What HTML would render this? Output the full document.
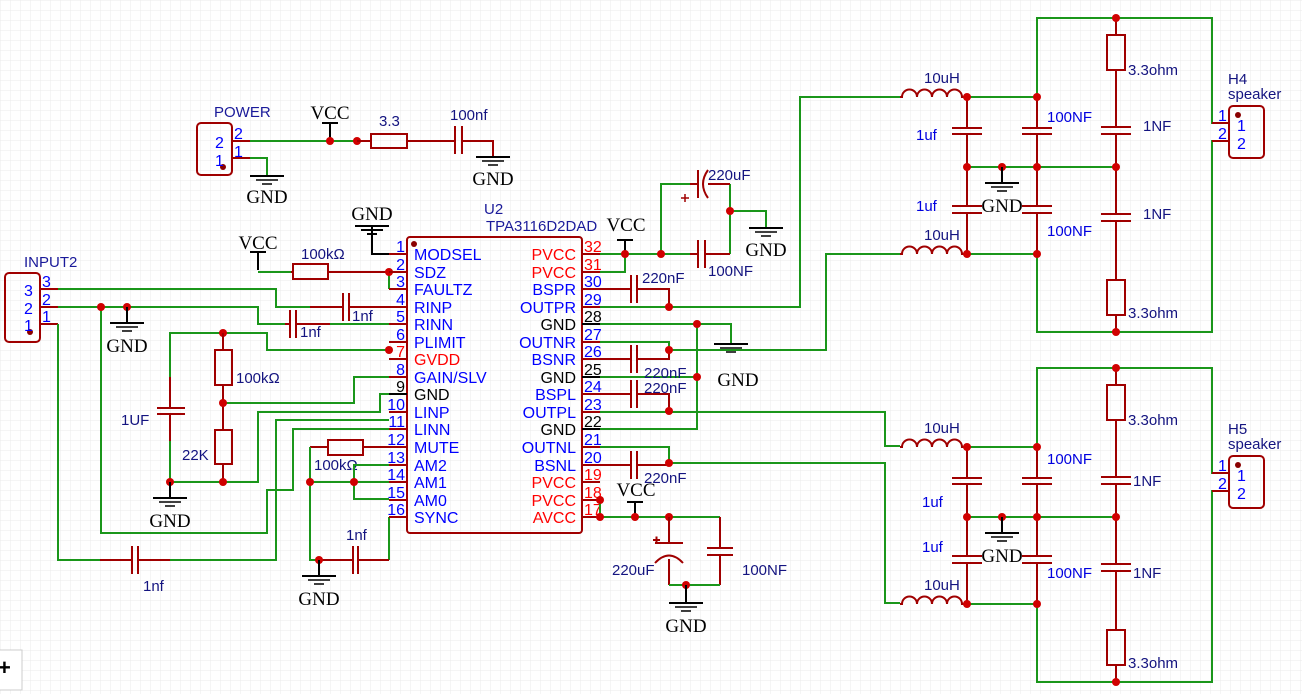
<!DOCTYPE html>
<html><head><meta charset="utf-8"><style>
html,body{margin:0;padding:0;background:#fff;}
svg{display:block;}
.w{stroke:#1a961a;stroke-width:2;fill:none;}
.r{stroke:#a00000;stroke-width:2;fill:none;}
.k{stroke:#000;stroke-width:2;fill:none;}
.d{fill:#d00000;}
text{font-family:"Liberation Sans",sans-serif;}
.g{font-family:"Liberation Serif",serif;font-size:19px;fill:#000;text-anchor:middle;}
.lb{font-size:15px;fill:#141480;}
.bl{font-size:15px;fill:#0000e0;}
.pn{font-size:16px;fill:#0000ff;}
.pr{font-size:16px;fill:#ff0000;}
.pk{font-size:16px;fill:#000;}
</style></head><body>
<svg width="1302" height="694" viewBox="0 0 1302 694" xmlns="http://www.w3.org/2000/svg">
<defs>
<pattern id="grid" width="10" height="10" patternUnits="userSpaceOnUse"><path d="M10 0H0V10" fill="none" stroke="#ebebeb" stroke-width="1"/></pattern>
<g id="gnd"><line x1="-17" y1="0" x2="17" y2="0" stroke="#000" stroke-width="2"/><line x1="-11" y1="4" x2="11" y2="4" stroke="#000" stroke-width="1.5"/><line x1="-5" y1="8" x2="5" y2="8" stroke="#000" stroke-width="1.5"/></g>
</defs>
<rect width="1302" height="694" fill="url(#grid)"/>

<!-- POWER -->
<rect x="197" y="123" width="35" height="52" rx="4" class="r"/>
<circle cx="223" cy="167" r="3" fill="#8a0000"/>
<text x="214" y="117" class="bl" style="fill:#1a1a9a">POWER</text>
<text x="215" y="148" class="pn">2</text><text x="215" y="166" class="pn">1</text>
<text x="234" y="139" class="pn">2</text><text x="234" y="157" class="pn">1</text>
<path class="r" d="M232 141H250M232 158H250"/>
<path class="w" d="M250 141H357M250 158H267V176"/>
<use href="#gnd" x="267" y="176"/><text x="267" y="203" class="g">GND</text>
<path class="k" d="M330 141V123M322 123H338"/><text x="330" y="119" class="g">VCC</text>
<circle cx="330" cy="141" r="4" class="d"/><circle cx="357" cy="141" r="4" class="d"/>
<path class="r" d="M357 141H371M407 141H455M462 141H493V157"/>
<rect x="371" y="134" width="36" height="14" class="r"/><text x="379" y="126" class="lb">3.3</text>
<path class="r" d="M455 126V154M462 126V154"/><text x="450" y="120" class="lb">100nf</text>
<use href="#gnd" x="493" y="157"/><text x="493" y="185" class="g">GND</text>

<!-- INPUT2 -->
<rect x="5" y="273" width="35" height="69" rx="4" class="r"/>
<circle cx="30" cy="332" r="3" fill="#8a0000"/>
<text x="24" y="267" class="bl" style="fill:#1a1a9a">INPUT2</text>
<text x="24" y="296" class="pn">3</text><text x="24" y="314" class="pn">2</text><text x="24" y="331" class="pn">1</text>
<text x="42" y="287" class="pn">3</text><text x="42" y="305" class="pn">2</text><text x="42" y="322" class="pn">1</text>
<path class="r" d="M40 289H58M40 307H58M40 324H58"/>
<path class="w" d="M58 289H276V307H310M58 307H258V324H285M58 324V560H100M170 560H276V420H389M101 307V533H267V490H293V429H389"/>
<circle cx="101" cy="307" r="4" class="d"/><circle cx="127" cy="307" r="4" class="d"/>
<path class="k" d="M127 307V323"/><use href="#gnd" x="127" y="323"/><text x="127" y="352" class="g">GND</text>
<path class="r" d="M310 307H343M349 307H389M343 293V321M349 293V321"/><text x="352" y="321" class="lb">1nf</text>
<path class="r" d="M285 324H290M296 324H330M290 310V338M296 310V338"/><text x="300" y="337" class="lb">1nf</text>
<path class="w" d="M330 324H389"/>
<path class="r" d="M100 560H132M138 560H170M132 546V574M138 546V574"/><text x="143" y="591" class="lb">1nf</text>

<!-- GVDD network -->
<path class="w" d="M389 350H267V333H170V377M223 333V350M170 441V482H258V412H380V394H389M223 403H354V377H389"/>
<circle cx="223" cy="333" r="4" class="d"/><circle cx="389" cy="350" r="4" class="d"/>
<path class="r" d="M170 377V408M170 414V441M157 408H185M157 414H185"/><text x="121" y="425" class="lb">1UF</text>
<path class="r" d="M223 333V350M223 385V430M223 464V482"/>
<rect x="215" y="350" width="17" height="35" class="r"/><rect x="215" y="430" width="17" height="34" class="r"/>
<text x="236" y="383" class="lb">100kΩ</text><text x="182" y="460" class="lb">22K</text>
<circle cx="223" cy="403" r="4" class="d"/><circle cx="223" cy="482" r="4" class="d"/><circle cx="170" cy="482" r="4" class="d"/>
<path class="k" d="M170 482V498"/><use href="#gnd" x="170" y="498"/><text x="170" y="527" class="g">GND</text>

<!-- VCC 100k SDZ -->
<path class="k" d="M258 270V252M250 252H266"/><text x="258" y="249" class="g">VCC</text>
<path class="w" d="M258 272H291"/><path class="r" d="M291 272H293M328 272H389"/>
<rect x="293" y="264" width="35" height="15" class="r"/><text x="301" y="259" class="lb">100kΩ</text>
<path class="w" d="M389 272V289"/><circle cx="389" cy="272" r="4" class="d"/>
<path class="k" d="M355 226H389M361 230H383M367 234H377M372 226V254H389"/><text x="372" y="220" class="g">GND</text>

<!-- mute / AM -->
<path class="r" d="M389 447H363M328 447H310"/><rect x="328" y="440" width="35" height="15" class="r"/><text x="314" y="470" class="lb">100kΩ</text>
<path class="w" d="M310 447V560H319M310 482H389M389 465H354V499H389"/>
<circle cx="310" cy="482" r="4" class="d"/><circle cx="354" cy="482" r="4" class="d"/>
<path class="w" d="M389 517V560"/><path class="r" d="M389 560H358M353 560H319M353 546V574M358 546V574"/><text x="346" y="540" class="lb">1nf</text>
<circle cx="319" cy="560" r="4" class="d"/><path class="k" d="M319 560V576"/><use href="#gnd" x="319" y="576"/><text x="319" y="605" class="g">GND</text>

<!-- IC -->
<rect x="407" y="237" width="175" height="296" rx="3" class="r"/>
<circle cx="414" cy="244" r="3" fill="#8a0000"/>
<text x="484" y="214" class="bl" style="fill:#1a1a9a">U2</text>
<text x="486" y="231" class="bl" style="fill:#1a1a9a">TPA3116D2DAD</text>
<g class="r">
<path d="M389 254H407M389 272H407M389 289H407M389 307H407M389 324H407M389 342H407M389 359H407M389 377H407M389 394H407M389 412H407M389 429H407M389 447H407M389 465H407M389 482H407M389 500H407M389 517H407"/>
<path d="M582 254H600M582 272H600M582 289H600M582 307H600M582 324H600M582 342H600M582 359H600M582 377H600M582 394H600M582 412H600M582 429H600M582 447H600M582 465H600M582 482H600M582 500H600M582 517H600"/>
</g>
<path class="k" d="M389 394H407M582 324H600M582 377H600M582 429H600"/>
<g text-anchor="end">
<text x="405" y="252" class="pn">1</text><text x="405" y="270" class="pn">2</text><text x="405" y="287" class="pn">3</text><text x="405" y="305" class="pn">4</text>
<text x="405" y="322" class="pn">5</text><text x="405" y="340" class="pn">6</text><text x="405" y="357" class="pr">7</text><text x="405" y="375" class="pn">8</text>
<text x="405" y="392" class="pk">9</text><text x="405" y="410" class="pn">10</text><text x="405" y="427" class="pn">11</text><text x="405" y="445" class="pn">12</text>
<text x="405" y="463" class="pn">13</text><text x="405" y="480" class="pn">14</text><text x="405" y="498" class="pn">15</text><text x="405" y="515" class="pn">16</text>
<text x="576" y="260" class="pr">PVCC</text><text x="576" y="278" class="pr">PVCC</text><text x="576" y="295" class="pn">BSPR</text><text x="576" y="313" class="pn">OUTPR</text>
<text x="576" y="330" class="pk">GND</text><text x="576" y="348" class="pn">OUTNR</text><text x="576" y="365" class="pn">BSNR</text><text x="576" y="383" class="pk">GND</text>
<text x="576" y="400" class="pn">BSPL</text><text x="576" y="418" class="pn">OUTPL</text><text x="576" y="435" class="pk">GND</text><text x="576" y="453" class="pn">OUTNL</text>
<text x="576" y="471" class="pn">BSNL</text><text x="576" y="488" class="pr">PVCC</text><text x="576" y="506" class="pr">PVCC</text><text x="576" y="523" class="pr">AVCC</text>
</g>
<text x="414" y="260" class="pn">MODSEL</text><text x="414" y="278" class="pn">SDZ</text><text x="414" y="295" class="pn">FAULTZ</text><text x="414" y="313" class="pn">RINP</text>
<text x="414" y="330" class="pn">RINN</text><text x="414" y="348" class="pn">PLIMIT</text><text x="414" y="365" class="pr">GVDD</text><text x="414" y="383" class="pn">GAIN/SLV</text>
<text x="414" y="400" class="pk">GND</text><text x="414" y="418" class="pn">LINP</text><text x="414" y="435" class="pn">LINN</text><text x="414" y="453" class="pn">MUTE</text>
<text x="414" y="471" class="pn">AM2</text><text x="414" y="488" class="pn">AM1</text><text x="414" y="506" class="pn">AM0</text><text x="414" y="523" class="pn">SYNC</text>
<text x="584" y="252" class="pr">32</text><text x="584" y="270" class="pr">31</text><text x="584" y="287" class="pn">30</text><text x="584" y="305" class="pn">29</text>
<text x="584" y="322" class="pk">28</text><text x="584" y="340" class="pn">27</text><text x="584" y="357" class="pn">26</text><text x="584" y="375" class="pk">25</text>
<text x="584" y="392" class="pn">24</text><text x="584" y="410" class="pn">23</text><text x="584" y="427" class="pk">22</text><text x="584" y="445" class="pn">21</text>
<text x="584" y="463" class="pn">20</text><text x="584" y="480" class="pr">19</text><text x="584" y="498" class="pr">18</text><text x="584" y="515" class="pr">17</text>

<!-- right side of IC -->
<path class="w" d="M600 254H690M600 272H625V254M661 254V184H690M730 184V254M730 211H766V228"/>
<path class="k" d="M625 254V240M617 240H633"/><text x="626" y="231" class="g">VCC</text>
<circle cx="625" cy="254" r="4" class="d"/><circle cx="661" cy="254" r="4" class="d"/><circle cx="730" cy="211" r="4" class="d"/>
<path class="r" d="M690 254H698M705 254H730M698 240V268M705 240V268"/><text x="708" y="276" class="lb">100NF</text>
<path class="r" d="M690 184H698M698 170V198M708 170Q698 184 708 198M708 184H730"/><path class="r" d="M681 198h8M685 194v8" style="stroke-width:1.5"/>
<text x="708" y="180" class="lb">220uF</text>
<use href="#gnd" x="766" y="228"/><text x="766" y="256" class="g">GND</text>
<path class="r" d="M600 289H631M637 289H669V307M631 275V303M637 275V303"/><text x="642" y="283" class="lb">220nF</text>
<path class="w" d="M600 307H800V97H900"/><circle cx="669" cy="307" r="4" class="d"/>
<path class="w" d="M600 324H731V344M697 324V429H600M600 377H697"/>
<circle cx="697" cy="324" r="4" class="d"/><circle cx="697" cy="377" r="4" class="d"/>
<use href="#gnd" x="731" y="344"/><text x="738" y="386" class="g">GND</text>
<path class="w" d="M600 342H669V350M669 350H826V254H900"/>
<path class="r" d="M600 359H631M637 359H669V350M631 345V373M637 345V373"/><circle cx="669" cy="350" r="4" class="d"/>
<text x="644" y="378" class="lb">220nF</text>
<path class="r" d="M600 394H631M637 394H669V411M631 380V408M637 380V408"/><text x="644" y="393" class="lb">220nF</text>
<path class="w" d="M600 412H885V446H900"/><circle cx="669" cy="411" r="4" class="d"/>
<path class="w" d="M600 447H669V463M669 463H885V603H900"/>
<path class="r" d="M600 465H631M637 465H669M631 451V479M637 451V479"/><circle cx="669" cy="463" r="4" class="d"/>
<text x="644" y="483" class="lb">220nF</text>
<path class="w" d="M600 500V517H720"/><circle cx="600" cy="500" r="4" class="d"/><circle cx="600" cy="517" r="4" class="d"/>
<path class="k" d="M635 517V502M627 502H643"/><text x="636" y="496" class="g">VCC</text>
<circle cx="635" cy="517" r="4" class="d"/><circle cx="669" cy="517" r="4" class="d"/>
<path class="r" d="M720 517V548M720 555V585M707 548H733M707 555H733"/><text x="742" y="575" class="lb">100NF</text>
<path class="r" d="M669 517V543M669 559V585M655 543H683M655 563Q669 548 683 563M653 540h7M656.5 536.5v7"/>
<text x="612" y="575" class="lb">220uF</text>
<path class="w" d="M669 585H720"/><circle cx="686" cy="585" r="4" class="d"/>
<path class="k" d="M686 585V603"/><use href="#gnd" x="686" y="603"/><text x="686" y="632" class="g">GND</text>

<!-- filter blocks -->
<g id="filt">
<path class="r" d="M900 97h2a7.5 7.5 0 0 1 15 0a7.5 7.5 0 0 1 15 0a7.5 7.5 0 0 1 15 0a7.5 7.5 0 0 1 15 0h5"/>
<path class="r" d="M900 254h2a7.5 7.5 0 0 1 15 0a7.5 7.5 0 0 1 15 0a7.5 7.5 0 0 1 15 0a7.5 7.5 0 0 1 15 0h5"/>
<path class="w" d="M967 97H1037V18H1212V123H1230M967 254H1037V332H1212V141H1230M967 167H1116"/>
<path class="r" d="M1230 123H1212M1230 141H1212"/>
<path class="r" d="M967 97V128M967 134V206M967 213V254M952 128H982M952 134H982M952 206H982M952 213H982"/>
<path class="r" d="M1037 97V128M1037 134V206M1037 213V254M1022 128H1052M1022 134H1052M1022 206H1052M1022 213H1052"/>
<path class="r" d="M1116 18V35M1116 70V127M1116 134V214M1116 221V280M1116 315V332M1101 127H1131M1101 134H1131M1101 214H1131M1101 221H1131"/>
<rect x="1107" y="35" width="18" height="35" class="r"/><rect x="1107" y="280" width="18" height="35" class="r"/>
<circle cx="967" cy="97" r="4" class="d"/><circle cx="1037" cy="97" r="4" class="d"/><circle cx="1116" cy="18" r="4" class="d"/>
<circle cx="967" cy="167" r="4" class="d"/><circle cx="1002" cy="167" r="4" class="d"/><circle cx="1037" cy="167" r="4" class="d"/><circle cx="1116" cy="167" r="4" class="d"/>
<circle cx="967" cy="254" r="4" class="d"/><circle cx="1037" cy="254" r="4" class="d"/><circle cx="1116" cy="332" r="4" class="d"/>
<path class="k" d="M1002 167V183"/><use href="#gnd" x="1002" y="183"/><text x="1002" y="212" class="g">GND</text>
<text x="924" y="83" class="lb">10uH</text><text x="924" y="240" class="lb">10uH</text>
<text x="1128" y="75" class="lb">3.3ohm</text><text x="1128" y="318" class="lb">3.3ohm</text>
<rect x="1229" y="106" width="35" height="52" rx="4" class="r"/><circle cx="1238" cy="115" r="3" fill="#8a0000"/>
<text x="1218" y="121" class="pn">1</text><text x="1218" y="139" class="pn">2</text>
<text x="1237" y="131" class="pn">1</text><text x="1237" y="149" class="pn">2</text>
</g>
<use href="#filt" x="0" y="350"/>
<text x="916" y="140" class="bl">1uf</text><text x="916" y="211" class="bl">1uf</text>
<text x="1047" y="122" class="bl">100NF</text><text x="1047" y="236" class="bl">100NF</text>
<text x="1143" y="131" class="lb">1NF</text><text x="1143" y="219" class="lb">1NF</text>
<text x="922" y="507" class="bl">1uf</text><text x="922" y="552" class="bl">1uf</text>
<text x="1047" y="464" class="bl">100NF</text><text x="1047" y="578" class="bl">100NF</text>
<text x="1133" y="486" class="lb">1NF</text><text x="1133" y="578" class="lb">1NF</text>
<text x="1228" y="84" class="lb">H4</text><text x="1228" y="99" class="lb">speaker</text>
<text x="1228" y="434" class="lb">H5</text><text x="1228" y="449" class="lb">speaker</text>

<rect x="-2" y="650" width="24" height="40" fill="#fff" stroke="#ccc"/>
<text x="-2" y="675" style="font-size:22px;font-weight:bold;fill:#000">+</text>
</svg>
</body></html>
